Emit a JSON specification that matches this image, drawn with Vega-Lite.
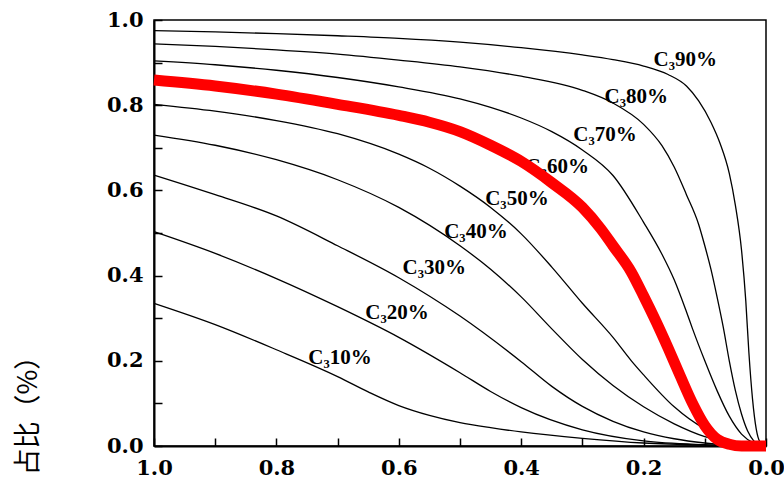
{
  "$schema": "https://vega.github.io/schema/vega-lite/v6.json",
  "width": 612,
  "height": 426,
  "autosize": {"type": "none"},
  "padding": {"left": 154, "top": 20, "right": 18, "bottom": 35},
  "background": "white",
  "config": {
    "view": {"stroke": "black", "strokeWidth": 1.5},
    "axis": {
      "grid": false,
      "domainColor": "black",
      "domainWidth": 2,
      "tickColor": "black",
      "tickWidth": 1.5,
      "labelColor": "black",
      "labelFont": "DejaVu Serif",
      "labelFontWeight": "bold",
      "labelFontSize": 21,
      "labelFlush": false,
      "titleColor": "black"
    }
  },
  "datasets": {
    "curves": [
      {"c": "C90", "x": 1.0, "y": 0.975}, {"c": "C90", "x": 0.9, "y": 0.972}, {"c": "C90", "x": 0.8, "y": 0.968}, {"c": "C90", "x": 0.7, "y": 0.963}, {"c": "C90", "x": 0.6, "y": 0.957}, {"c": "C90", "x": 0.5, "y": 0.948}, {"c": "C90", "x": 0.4, "y": 0.935}, {"c": "C90", "x": 0.3, "y": 0.918}, {"c": "C90", "x": 0.25, "y": 0.907}, {"c": "C90", "x": 0.2, "y": 0.892}, {"c": "C90", "x": 0.16, "y": 0.872}, {"c": "C90", "x": 0.13, "y": 0.845}, {"c": "C90", "x": 0.11, "y": 0.81}, {"c": "C90", "x": 0.09, "y": 0.76}, {"c": "C90", "x": 0.075, "y": 0.71}, {"c": "C90", "x": 0.06, "y": 0.64}, {"c": "C90", "x": 0.05, "y": 0.565}, {"c": "C90", "x": 0.04, "y": 0.46}, {"c": "C90", "x": 0.033, "y": 0.34}, {"c": "C90", "x": 0.028, "y": 0.22}, {"c": "C90", "x": 0.022, "y": 0.11}, {"c": "C90", "x": 0.016, "y": 0.04}, {"c": "C90", "x": 0.01, "y": 0.01}, {"c": "C90", "x": 0.0, "y": 0.0},
      {"c": "C80", "x": 1.0, "y": 0.944}, {"c": "C80", "x": 0.9, "y": 0.938}, {"c": "C80", "x": 0.8, "y": 0.93}, {"c": "C80", "x": 0.7, "y": 0.92}, {"c": "C80", "x": 0.6, "y": 0.906}, {"c": "C80", "x": 0.5, "y": 0.89}, {"c": "C80", "x": 0.4, "y": 0.868}, {"c": "C80", "x": 0.3, "y": 0.835}, {"c": "C80", "x": 0.25, "y": 0.805}, {"c": "C80", "x": 0.2, "y": 0.755}, {"c": "C80", "x": 0.17, "y": 0.705}, {"c": "C80", "x": 0.15, "y": 0.655}, {"c": "C80", "x": 0.13, "y": 0.59}, {"c": "C80", "x": 0.11, "y": 0.52}, {"c": "C80", "x": 0.1, "y": 0.47}, {"c": "C80", "x": 0.09, "y": 0.415}, {"c": "C80", "x": 0.08, "y": 0.35}, {"c": "C80", "x": 0.07, "y": 0.28}, {"c": "C80", "x": 0.06, "y": 0.2}, {"c": "C80", "x": 0.05, "y": 0.13}, {"c": "C80", "x": 0.04, "y": 0.075}, {"c": "C80", "x": 0.03, "y": 0.035}, {"c": "C80", "x": 0.02, "y": 0.012}, {"c": "C80", "x": 0.01, "y": 0.003}, {"c": "C80", "x": 0.0, "y": 0.0},
      {"c": "C70", "x": 1.0, "y": 0.904}, {"c": "C70", "x": 0.9, "y": 0.895}, {"c": "C70", "x": 0.8, "y": 0.882}, {"c": "C70", "x": 0.7, "y": 0.865}, {"c": "C70", "x": 0.6, "y": 0.843}, {"c": "C70", "x": 0.5, "y": 0.815}, {"c": "C70", "x": 0.45, "y": 0.795}, {"c": "C70", "x": 0.4, "y": 0.77}, {"c": "C70", "x": 0.35, "y": 0.738}, {"c": "C70", "x": 0.3, "y": 0.695}, {"c": "C70", "x": 0.25, "y": 0.635}, {"c": "C70", "x": 0.2, "y": 0.525}, {"c": "C70", "x": 0.17, "y": 0.45}, {"c": "C70", "x": 0.15, "y": 0.39}, {"c": "C70", "x": 0.13, "y": 0.315}, {"c": "C70", "x": 0.12, "y": 0.275}, {"c": "C70", "x": 0.1, "y": 0.2}, {"c": "C70", "x": 0.08, "y": 0.13}, {"c": "C70", "x": 0.06, "y": 0.07}, {"c": "C70", "x": 0.04, "y": 0.028}, {"c": "C70", "x": 0.02, "y": 0.007}, {"c": "C70", "x": 0.0, "y": 0.0},
      {"c": "C60", "x": 1.0, "y": 0.859}, {"c": "C60", "x": 0.9, "y": 0.845}, {"c": "C60", "x": 0.8, "y": 0.826}, {"c": "C60", "x": 0.7, "y": 0.802}, {"c": "C60", "x": 0.6, "y": 0.776}, {"c": "C60", "x": 0.55, "y": 0.76}, {"c": "C60", "x": 0.5, "y": 0.738}, {"c": "C60", "x": 0.45, "y": 0.706}, {"c": "C60", "x": 0.4, "y": 0.668}, {"c": "C60", "x": 0.35, "y": 0.618}, {"c": "C60", "x": 0.3, "y": 0.56}, {"c": "C60", "x": 0.27, "y": 0.51}, {"c": "C60", "x": 0.25, "y": 0.47}, {"c": "C60", "x": 0.22, "y": 0.408}, {"c": "C60", "x": 0.2, "y": 0.352}, {"c": "C60", "x": 0.18, "y": 0.293}, {"c": "C60", "x": 0.16, "y": 0.23}, {"c": "C60", "x": 0.14, "y": 0.164}, {"c": "C60", "x": 0.12, "y": 0.1}, {"c": "C60", "x": 0.1, "y": 0.048}, {"c": "C60", "x": 0.08, "y": 0.016}, {"c": "C60", "x": 0.06, "y": 0.004}, {"c": "C60", "x": 0.04, "y": 0.0}, {"c": "C60", "x": 0.02, "y": 0.0}, {"c": "C60", "x": 0.0, "y": 0.0},
      {"c": "C50", "x": 1.0, "y": 0.802}, {"c": "C50", "x": 0.9, "y": 0.786}, {"c": "C50", "x": 0.8, "y": 0.764}, {"c": "C50", "x": 0.7, "y": 0.733}, {"c": "C50", "x": 0.6, "y": 0.685}, {"c": "C50", "x": 0.55, "y": 0.652}, {"c": "C50", "x": 0.5, "y": 0.61}, {"c": "C50", "x": 0.45, "y": 0.56}, {"c": "C50", "x": 0.4, "y": 0.498}, {"c": "C50", "x": 0.35, "y": 0.42}, {"c": "C50", "x": 0.3, "y": 0.335}, {"c": "C50", "x": 0.25, "y": 0.255}, {"c": "C50", "x": 0.22, "y": 0.2}, {"c": "C50", "x": 0.2, "y": 0.167}, {"c": "C50", "x": 0.15, "y": 0.092}, {"c": "C50", "x": 0.1, "y": 0.04}, {"c": "C50", "x": 0.05, "y": 0.01}, {"c": "C50", "x": 0.0, "y": 0.0},
      {"c": "C40", "x": 1.0, "y": 0.73}, {"c": "C40", "x": 0.9, "y": 0.706}, {"c": "C40", "x": 0.8, "y": 0.672}, {"c": "C40", "x": 0.7, "y": 0.625}, {"c": "C40", "x": 0.6, "y": 0.56}, {"c": "C40", "x": 0.5, "y": 0.47}, {"c": "C40", "x": 0.45, "y": 0.415}, {"c": "C40", "x": 0.4, "y": 0.35}, {"c": "C40", "x": 0.35, "y": 0.275}, {"c": "C40", "x": 0.3, "y": 0.203}, {"c": "C40", "x": 0.25, "y": 0.142}, {"c": "C40", "x": 0.2, "y": 0.092}, {"c": "C40", "x": 0.15, "y": 0.052}, {"c": "C40", "x": 0.1, "y": 0.022}, {"c": "C40", "x": 0.05, "y": 0.005}, {"c": "C40", "x": 0.0, "y": 0.0},
      {"c": "C30", "x": 1.0, "y": 0.636}, {"c": "C30", "x": 0.9, "y": 0.59}, {"c": "C30", "x": 0.8, "y": 0.54}, {"c": "C30", "x": 0.7, "y": 0.47}, {"c": "C30", "x": 0.6, "y": 0.395}, {"c": "C30", "x": 0.5, "y": 0.305}, {"c": "C30", "x": 0.4, "y": 0.198}, {"c": "C30", "x": 0.35, "y": 0.14}, {"c": "C30", "x": 0.3, "y": 0.093}, {"c": "C30", "x": 0.25, "y": 0.058}, {"c": "C30", "x": 0.2, "y": 0.033}, {"c": "C30", "x": 0.15, "y": 0.017}, {"c": "C30", "x": 0.1, "y": 0.007}, {"c": "C30", "x": 0.05, "y": 0.001}, {"c": "C30", "x": 0.0, "y": 0.0},
      {"c": "C20", "x": 1.0, "y": 0.503}, {"c": "C20", "x": 0.9, "y": 0.452}, {"c": "C20", "x": 0.8, "y": 0.393}, {"c": "C20", "x": 0.7, "y": 0.327}, {"c": "C20", "x": 0.6, "y": 0.255}, {"c": "C20", "x": 0.5, "y": 0.172}, {"c": "C20", "x": 0.45, "y": 0.128}, {"c": "C20", "x": 0.4, "y": 0.09}, {"c": "C20", "x": 0.3, "y": 0.038}, {"c": "C20", "x": 0.2, "y": 0.012}, {"c": "C20", "x": 0.1, "y": 0.003}, {"c": "C20", "x": 0.0, "y": 0.0},
      {"c": "C10", "x": 1.0, "y": 0.335}, {"c": "C10", "x": 0.9, "y": 0.285}, {"c": "C10", "x": 0.8, "y": 0.226}, {"c": "C10", "x": 0.7, "y": 0.163}, {"c": "C10", "x": 0.65, "y": 0.127}, {"c": "C10", "x": 0.6, "y": 0.095}, {"c": "C10", "x": 0.55, "y": 0.072}, {"c": "C10", "x": 0.5, "y": 0.055}, {"c": "C10", "x": 0.45, "y": 0.043}, {"c": "C10", "x": 0.4, "y": 0.033}, {"c": "C10", "x": 0.3, "y": 0.018}, {"c": "C10", "x": 0.2, "y": 0.007}, {"c": "C10", "x": 0.1, "y": 0.002}, {"c": "C10", "x": 0.0, "y": 0.0}
    ],
    "labels": [
      {"label": "C₃90%", "x": 0.132, "y": 0.905},
      {"label": "C₃80%", "x": 0.212, "y": 0.82},
      {"label": "C₃70%", "x": 0.263, "y": 0.73},
      {"label": "C₃60%", "x": 0.341, "y": 0.656},
      {"label": "C₃50%", "x": 0.407, "y": 0.58},
      {"label": "C₃40%", "x": 0.474, "y": 0.502},
      {"label": "C₃30%", "x": 0.542, "y": 0.418},
      {"label": "C₃20%", "x": 0.603, "y": 0.313},
      {"label": "C₃10%", "x": 0.696, "y": 0.207}
    ]
  },
  "encoding": {
    "x": {
      "field": "x",
      "type": "quantitative",
      "scale": {"domain": [0, 1], "reverse": true, "nice": false},
      "axis": {
        "title": null,
        "values": [0, 0.1, 0.2, 0.3, 0.4, 0.5, 0.6, 0.7, 0.8, 0.9, 1.0],
        "labelExpr": "round(datum.value * 10) % 2 == 0 ? format(datum.value, '.1f') : ''",
        "tickSize": -8,
        "labelPadding": 19
      }
    },
    "y": {
      "field": "y",
      "type": "quantitative",
      "scale": {"domain": [0, 1], "nice": false},
      "axis": {
        "title": "占比（%）",
        "titleFont": "Noto Sans CJK SC",
        "titleFontSize": 27,
        "titleFontWeight": "normal",
        "titleAngle": -90,
        "titleAlign": "left",
        "titleBaseline": "middle",
        "titleX": -126,
        "titleY": 455,
        "values": [0, 0.1, 0.2, 0.3, 0.4, 0.5, 0.6, 0.7, 0.8, 0.9, 1.0],
        "labelExpr": "round(datum.value * 10) % 2 == 0 ? format(datum.value, '.1f') : ''",
        "tickSize": -8,
        "labelPadding": 19
      }
    }
  },
  "layer": [
    {
      "data": {"name": "curves"},
      "transform": [{"filter": "datum.c != 'C60'"}],
      "mark": {"type": "line", "interpolate": "monotone", "color": "black", "strokeWidth": 1.3},
      "encoding": {"detail": {"field": "c"}}
    },
    {
      "data": {"name": "labels"},
      "mark": {"type": "text", "font": "Liberation Serif", "fontWeight": "bold", "fontSize": 21, "color": "black", "align": "center", "baseline": "middle"},
      "encoding": {"text": {"field": "label"}}
    },
    {
      "data": {"name": "curves"},
      "transform": [{"filter": "datum.c == 'C60'"}],
      "mark": {"type": "line", "interpolate": "monotone", "color": "#ff0000", "strokeWidth": 11},
      "encoding": {"detail": {"field": "c"}}
    }
  ]
}
